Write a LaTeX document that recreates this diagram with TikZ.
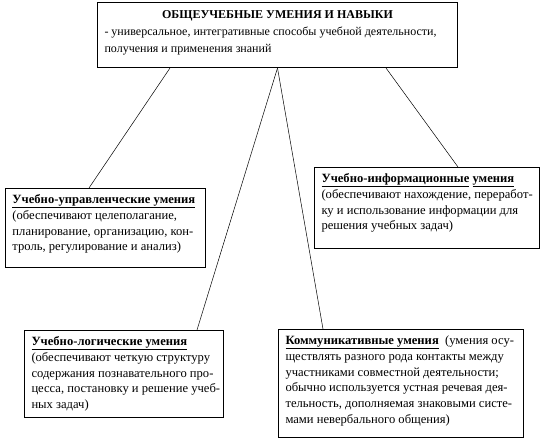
\documentclass[tikz,border=0pt]{standalone}
\usepackage{fontspec}
\setmainfont{Liberation Serif}
\usetikzlibrary{calc}
\newcommand{\bxt}[5][12.6]{\begin{minipage}[t][\dimexpr#3pt-8pt\relax][t]{\dimexpr#2pt-14pt\relax}\fontsize{#1}{#4}\selectfont\raggedright #5\end{minipage}}
\newcommand{\bxl}[3]{\bxt{#1}{#2}{15.8}{\begin{tabular}[t]{@{}l@{}}#3\end{tabular}}}
\newcommand{\hd}[1]{\underline{\textbf{#1}}}
\begin{document}
\begin{tikzpicture}[x=1pt,y=-1pt,
  box/.style={draw, line width=1pt, inner xsep=7pt, inner ysep=4pt, anchor=north west},
  conn/.style={line width=0.5pt}]
\useasboundingbox (0,0) rectangle (543,443);
\node[box] (top) at (97,2) {\bxt[12]{360}{65}{16.8}{{\centering\rule{0pt}{12.5pt}\textbf{ОБЩЕУЧЕБНЫЕ УМЕНИЯ И НАВЫКИ}\par}- универсальное, интегративные способы учебной деятельности,\\получения и применения знаний}};
\node[box] (upr) at (5,188) {\bxl{200}{79}{\hd{Учебно-управленческие умения}\\(обеспечивают целеполагание,\\планирование, организацию, кон-\\троль, регулирование и анализ)}};
\node[box] (inf) at (314,167) {\bxl{225}{81}{\hd{Учебно-информационные} \hd{умения}\\(обеспечивают нахождение, переработ-\\ку и использование информации для\\решения учебных задач)}};
\node[box] (logic) at (24,330) {\bxl{199}{87}{\hd{Учебно-логические умения}\\(обеспечивают четкую структуру\\содержания познавательного про-\\цесса, постановку и решение учеб-\\ных задач)}};
\node[box] (comm) at (278,329) {\bxl{245}{108}{\hd{Коммуникативные умения}~ (умения осу-\\ществлять разного рода контакты между\\участниками совместной деятельности;\\обычно используется устная речевая дея-\\тельность, дополняемая знаковыми систе-\\мами невербального общения)}};
\draw[conn] ($(top.south west)+(73,0)$) -- ($(upr.north west)+(84,0)$);
\draw[conn] (top.south) -- ($(logic.north west)+(173,0)$);
\draw[conn] (top.south) -- ($(comm.north west)+(45,0)$);
\draw[conn] ($(top.south west)+(289,0)$) -- ($(inf.north west)+(144,0)$);
\end{tikzpicture}
\end{document}
